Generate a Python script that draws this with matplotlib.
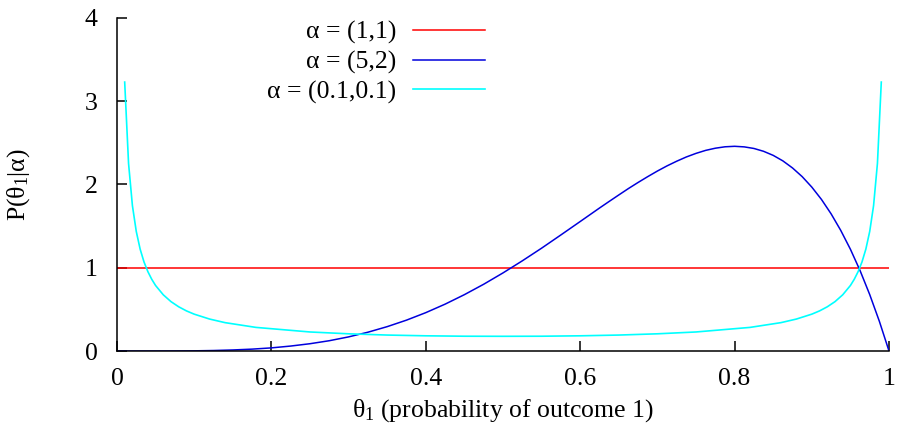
import matplotlib.pyplot as plt

plt.rcParams['font.family'] = ['Liberation Serif', 'DejaVu Serif']
plt.rcParams['mathtext.fontset'] = 'custom'
plt.rcParams['mathtext.rm'] = 'Liberation Serif'
plt.rcParams['mathtext.it'] = 'Liberation Serif'
plt.rcParams['mathtext.bf'] = 'Liberation Serif:bold'

# theta values and densities
theta_flat = [0.0, 1.0]
p_flat = [1.0, 1.0]

theta_52 = [0.0, 0.025, 0.05, 0.075, 0.1, 0.125, 0.15, 0.175, 0.2, 0.225,
            0.25, 0.275, 0.3, 0.325, 0.35, 0.375, 0.4, 0.425, 0.45, 0.475,
            0.5, 0.525, 0.55, 0.575, 0.6, 0.6125, 0.625, 0.6375, 0.65, 0.6625,
            0.675, 0.6875, 0.7, 0.7125, 0.725, 0.7375, 0.75, 0.7625, 0.775,
            0.7875, 0.8, 0.8125, 0.825, 0.8375, 0.85, 0.8625, 0.875, 0.8875,
            0.9, 0.9125, 0.925, 0.9375, 0.95, 0.9625, 0.975, 0.9875, 1.0]
p_52 = [0.0, 0.0, 0.0002, 0.0009, 0.0027, 0.0064, 0.013, 0.023, 0.038, 0.060,
        0.088, 0.124, 0.170, 0.226, 0.293, 0.371, 0.461, 0.563, 0.677, 0.802,
        0.938, 1.083, 1.235, 1.394, 1.555, 1.636, 1.717, 1.796, 1.874, 1.951,
        2.024, 2.094, 2.161, 2.223, 2.279, 2.330, 2.373, 2.409, 2.435,
        2.452, 2.458, 2.451, 2.432, 2.398, 2.349, 2.283, 2.198, 2.094,
        1.968, 1.820, 1.647, 1.448, 1.222, 0.966, 0.678, 0.357, 0.0]

theta_01 = [0.01, 0.015, 0.02, 0.025, 0.03, 0.035, 0.04, 0.045, 0.05, 0.06,
            0.07, 0.08, 0.09, 0.1, 0.12, 0.14, 0.18, 0.25, 0.3, 0.35, 0.4,
            0.45, 0.5, 0.55, 0.6, 0.65, 0.7, 0.75, 0.82, 0.86, 0.88, 0.9,
            0.91, 0.92, 0.93, 0.94, 0.95, 0.955, 0.96, 0.965, 0.97, 0.975,
            0.98, 0.985, 0.99]
p_01 = [3.229, 2.253, 1.746, 1.436, 1.224, 1.070, 0.954, 0.862, 0.787, 0.675,
        0.593, 0.531, 0.482, 0.443, 0.384, 0.341, 0.284, 0.229, 0.207, 0.192, 0.183,
        0.178, 0.177, 0.178, 0.183, 0.192, 0.207, 0.229, 0.284, 0.341, 0.384, 0.443,
        0.482, 0.531, 0.593, 0.675, 0.787, 0.862, 0.954, 1.070, 1.224, 1.436,
        1.746, 2.253, 3.229]

labels = ['α = (1,1)', 'α = (5,2)', 'α = (0.1,0.1)']
colors = ['#ff0000', '#0000dd', '#00ffff']

fig = plt.figure(figsize=(8.97, 4.25), dpi=100)
ax = fig.add_axes([0.1304, 0.174, 0.8607, 0.784])

ax.plot(theta_flat, p_flat, color=colors[0], lw=1.1, label=labels[0])
ax.plot(theta_52, p_52, color=colors[1], lw=1.1, label=labels[1])
ax.plot(theta_01, p_01, color=colors[2], lw=1.2, label=labels[2])

ax.set_xlim(0, 1)
ax.set_ylim(0, 4)
ax.set_xticks([0, 0.2, 0.4, 0.6, 0.8, 1])
ax.set_xticklabels(['0', '0.2', '0.4', '0.6', '0.8', '1'])
ax.set_yticks([0, 1, 2, 3, 4])
ax.tick_params(direction='in', length=7, width=1.1, labelsize=18.5)
ax.tick_params(axis='x', pad=12)
ax.tick_params(axis='y', pad=14)
for s in ['top', 'right']:
    ax.spines[s].set_visible(False)
for s in ['left', 'bottom']:
    ax.spines[s].set_linewidth(1.1)

ax.set_xlabel(r'$\theta_1$ (probability of outcome 1)', fontsize=18.5, labelpad=5)
ax.set_ylabel(r'P($\theta_1$|$\alpha$)', fontsize=18.5, labelpad=38)

ax.legend(loc='upper right', bbox_to_anchor=(0.50, 1.045), frameon=False,
          fontsize=18.5, markerfirst=False, handlelength=2.8, handletextpad=0.65,
          labelspacing=0.25, borderpad=0.2)

fig.savefig('out.png', dpi=100)
